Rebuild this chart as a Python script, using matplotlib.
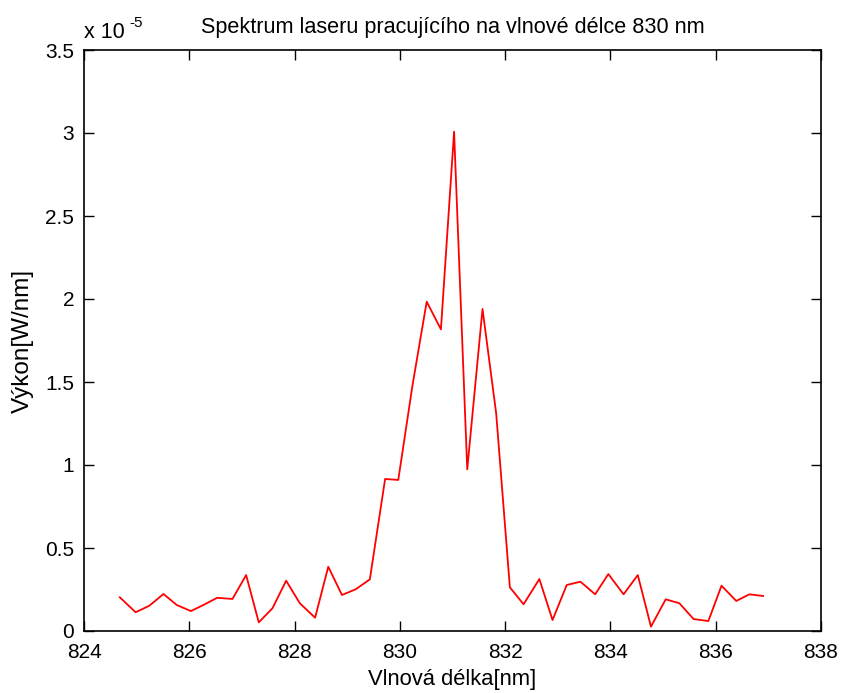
import matplotlib
matplotlib.use("Agg")
import matplotlib.pyplot as plt
from matplotlib.ticker import FuncFormatter

plt.rcParams['font.family'] = ['Liberation Sans', 'DejaVu Sans']

# Wavelength samples [nm]
wavelength_nm = [
    824.68, 824.98, 825.24, 825.51, 825.76, 826.03, 826.27, 826.53, 826.82, 827.08,
    827.32, 827.58, 827.84, 828.10, 828.39, 828.64, 828.90, 829.16, 829.43, 829.72,
    829.97, 830.24, 830.51, 830.78, 831.03, 831.28, 831.57, 831.83, 832.09, 832.35,
    832.65, 832.90, 833.17, 833.43, 833.71, 833.96, 834.25, 834.52, 834.77, 835.05,
    835.31, 835.58, 835.86, 836.11, 836.39, 836.64, 836.90,
]

# Spectral power density in units of 1e-5 W/nm
power_e5 = [
    0.203, 0.113, 0.152, 0.223, 0.157, 0.120, 0.157, 0.200, 0.193, 0.337,
    0.052, 0.137, 0.303, 0.167, 0.080, 0.387, 0.217, 0.251, 0.311, 0.916,
    0.910, 1.480, 1.984, 1.817, 3.008, 0.974, 1.940, 1.310, 0.263, 0.161,
    0.313, 0.066, 0.277, 0.297, 0.221, 0.343, 0.221, 0.337, 0.026, 0.191,
    0.167, 0.072, 0.060, 0.273, 0.181, 0.221, 0.211,
]

x_ticks = [824, 826, 828, 830, 832, 834, 836, 838]
y_ticks_e5 = [0, 0.5, 1, 1.5, 2, 2.5, 3, 3.5]

power = [p * 1e-5 for p in power_e5]

fig = plt.figure(figsize=(8.43, 6.93), dpi=100)
ax = fig.add_axes([84 / 843, 62 / 693, (821 - 84) / 843, (631 - 50) / 693])

ax.plot(wavelength_nm, power, color='#ff0000', linewidth=1.3)

ax.set_xlim(824, 838)
ax.set_ylim(0, 3.5e-5)
ax.set_xticks(x_ticks)
ax.set_yticks([t * 1e-5 for t in y_ticks_e5])


def fmt(v, pos):
    s = f"{v * 1e5:.1f}"
    if s.endswith(".0"):
        s = s[:-2]
    return s


ax.yaxis.set_major_formatter(FuncFormatter(fmt))
ax.tick_params(direction='in', top=True, right=True, length=7, width=1,
               labelsize=15)
ax.tick_params(axis='x', pad=9)
ax.tick_params(axis='y', pad=7)
for sp in ax.spines.values():
    sp.set_linewidth(1.2)

ax.set_title("Spektrum laseru pracujícího na vlnové délce 830 nm",
             fontsize=15.6, pad=12)
ax.set_xlabel("Vlnová délka[nm]", fontsize=15.8, labelpad=5)
ax.set_ylabel("Výkon[W/nm]", fontsize=17.5, labelpad=8)

# Exponent marker for the y axis
ax.text(0.0, 1.012, "x 10", transform=ax.transAxes, fontsize=15.5,
        ha='left', va='bottom')
ax.text(0.061, 1.035, "-5", transform=ax.transAxes, fontsize=11,
        ha='left', va='bottom')

fig.savefig("out.png", dpi=100, facecolor='white')
